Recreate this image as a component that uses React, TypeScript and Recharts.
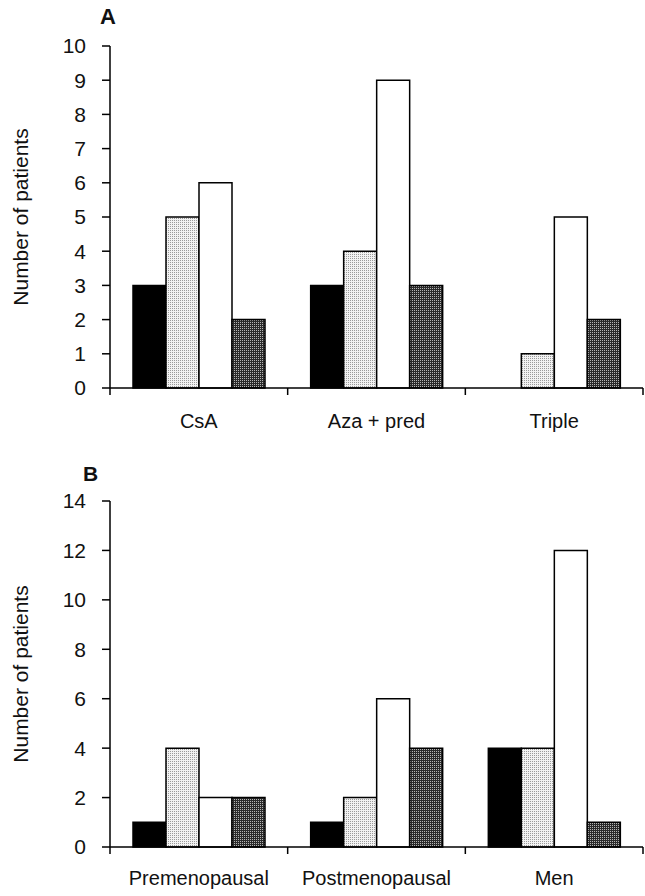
import React from 'react';
import { Bar, BarChart, XAxis, YAxis } from 'recharts';

// panel A: treatment groups
const treatments = ['CsA', 'Aza + pred', 'Triple'];
const treatBlack = [3, 3, 0];
const treatLight = [5, 4, 1];
const treatWhite = [6, 9, 5];
const treatDark = [2, 3, 2];
const treatTicks = [0, 1, 2, 3, 4, 5, 6, 7, 8, 9, 10];

// panel B: patient groups
const groups = ['Premenopausal', 'Postmenopausal', 'Men'];
const groupBlack = [1, 1, 4];
const groupLight = [4, 2, 4];
const groupWhite = [2, 6, 12];
const groupDark = [2, 4, 1];
const groupTicks = [0, 2, 4, 6, 8, 10, 12, 14];

const FONT = '"Liberation Sans", Arial, Helvetica, sans-serif';
const CHART_W = 645;
const LEFT = 110;
const RIGHT = 2;

const build = (cats: string[], a: number[], b: number[], c: number[], d: number[]) =>
  cats.map((name, i) => ({ name, s1: a[i], s2: b[i], s3: c[i], s4: d[i] }));

const XTick = (props: any) => {
  const { x, y, payload, index, labelDy, count } = props;
  const half = (CHART_W - LEFT - RIGHT) / count / 2;
  return (
    <g>
      <line x1={x - half} x2={x - half} y1={y} y2={y + 7} stroke="#000" strokeWidth={1.5} />
      {index === count - 1 && (
        <line x1={x + half} x2={x + half} y1={y} y2={y + 7} stroke="#000" strokeWidth={1.5} />
      )}
      <text x={x} y={y + labelDy} textAnchor="middle" fontSize={20} fontFamily={FONT} fill="#111">
        {payload.value}
      </text>
    </g>
  );
};

const YLabel = (props: any) => {
  const vb = props.viewBox || {};
  const cy = vb.y + vb.height / 2;
  return (
    <text
      x={20}
      y={cy}
      transform={`rotate(-90, 20, ${cy})`}
      textAnchor="middle"
      dominantBaseline="central"
      fontSize={21}
      fontFamily={FONT}
      fill="#111"
    >
      Number of patients
    </text>
  );
};

interface PanelProps {
  id: string;
  letter: string;
  letterX: number;
  letterY: number;
  letterSize: number;
  data: any[];
  ticks: number[];
  max: number;
  height: number;
  top: number;
  axisHeight: number;
  labelDy: number;
}

const Panel: React.FC<PanelProps> = ({ id, letter, letterX, letterY, letterSize, data, ticks, max, height, top, axisHeight, labelDy }) => (
  <div style={{ position: 'relative', width: CHART_W, height }}>
    <BarChart
      width={CHART_W}
      height={height}
      data={data}
      margin={{ top, right: RIGHT, left: 0, bottom: 0 }}
      barGap={0}
      barSize={33}
    >
      <defs>
        <pattern id={`${id}-light`} width={2} height={2} patternUnits="userSpaceOnUse">
          <rect width={2} height={2} fill="#f2f2f2" />
          <rect width={1} height={1} fill="#9a9a9a" />
        </pattern>
        <pattern id={`${id}-dark`} width={2} height={2} patternUnits="userSpaceOnUse">
          <rect width={2} height={2} fill="#2a2a2a" />
          <rect width={1} height={1} fill="#b5b5b5" />
        </pattern>
      </defs>
      <XAxis
        dataKey="name"
        height={axisHeight}
        tickSize={0}
        tickMargin={0}
        tickLine={false}
        axisLine={{ stroke: '#000', strokeWidth: 1.5 }}
        tick={<XTick labelDy={labelDy} count={data.length} />}
        interval={0}
      />
      <YAxis
        width={LEFT}
        domain={[0, max]}
        ticks={ticks}
        interval={0}
        tickSize={8}
        tickMargin={16}
        axisLine={{ stroke: '#000', strokeWidth: 1.5 }}
        tickLine={{ stroke: '#000', strokeWidth: 1.5 }}
        tick={{ fontSize: 21, fontFamily: FONT, fill: '#111' }}
        label={<YLabel />}
      />
      <Bar dataKey="s1" fill="#000" stroke="#000" strokeWidth={1.5} isAnimationActive={false} />
      <Bar dataKey="s2" fill={`url(#${id}-light)`} stroke="#000" strokeWidth={1.5} isAnimationActive={false} />
      <Bar dataKey="s3" fill="#fff" stroke="#000" strokeWidth={1.5} isAnimationActive={false} />
      <Bar dataKey="s4" fill={`url(#${id}-dark)`} stroke="#000" strokeWidth={1.5} isAnimationActive={false} />
    </BarChart>
    <div
      style={{
        position: 'absolute',
        left: letterX,
        top: letterY,
        fontFamily: FONT,
        fontWeight: 'bold',
        fontSize: letterSize,
        lineHeight: `${letterSize}px`,
        color: '#111',
      }}
    >
      {letter}
    </div>
  </div>
);

export default function App() {
  const dataA = build(treatments, treatBlack, treatLight, treatWhite, treatDark);
  const dataB = build(groups, groupBlack, groupLight, groupWhite, groupDark);
  return (
    <div style={{ position: 'absolute', left: 0, top: 0, width: CHART_W, height: 896, background: '#fff' }}>
      <Panel id="a" letter="A" letterX={100} letterY={6} letterSize={22} data={dataA} ticks={treatTicks} max={10}
        height={445} top={46} axisHeight={57} labelDy={40} />
      <Panel id="b" letter="B" letterX={83} letterY={18} letterSize={21} data={dataB} ticks={groupTicks} max={14}
        height={451} top={56} axisHeight={49} labelDy={38} />
    </div>
  );
}
